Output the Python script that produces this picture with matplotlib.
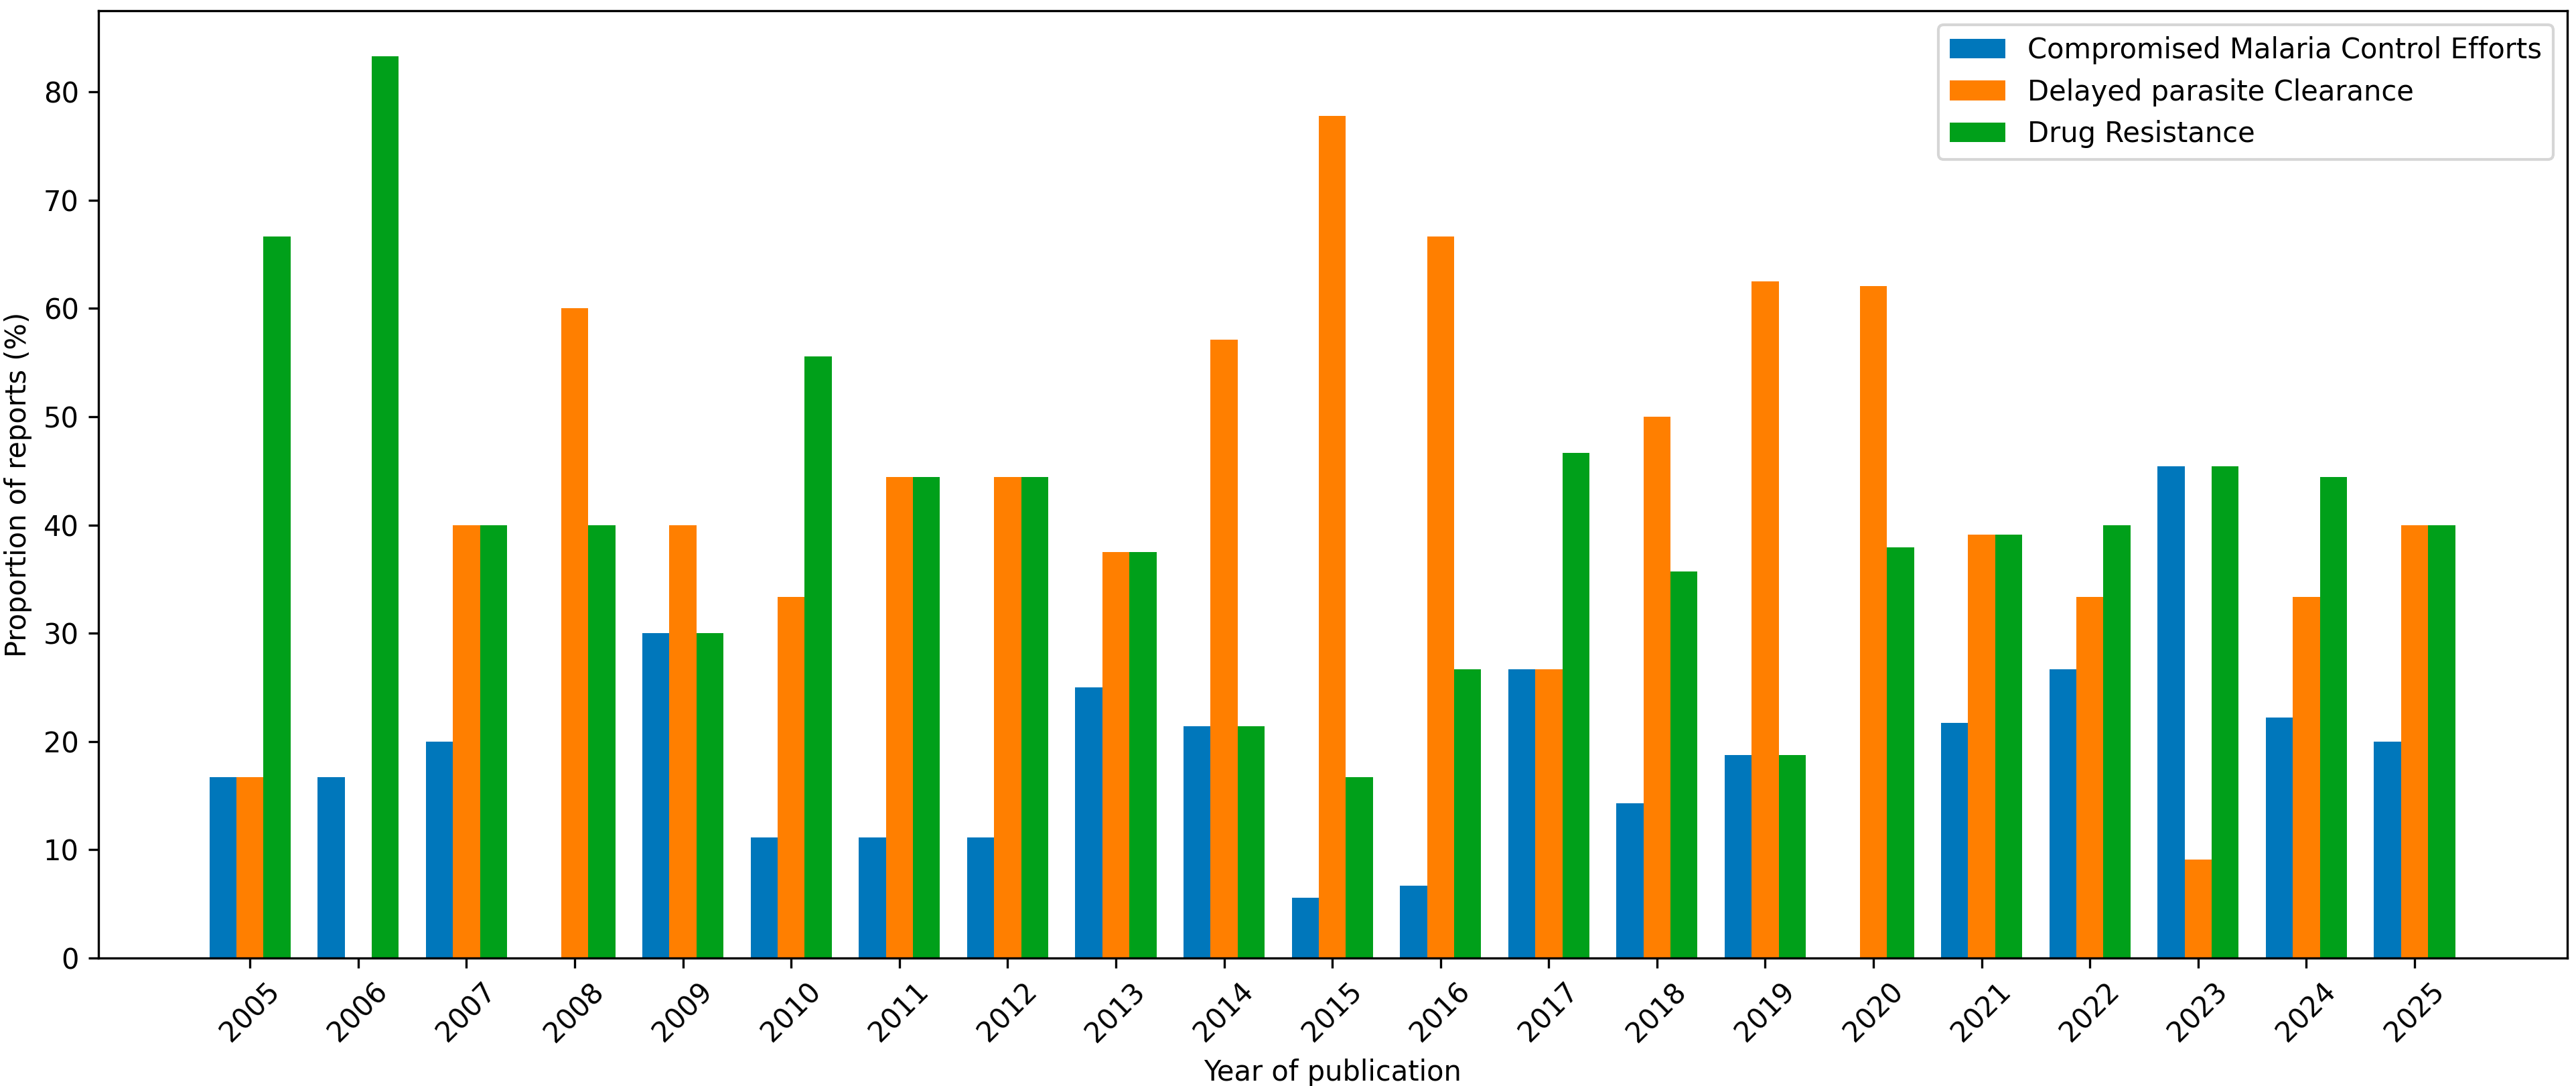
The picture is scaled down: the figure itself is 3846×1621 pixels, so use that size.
import matplotlib
matplotlib.use("Agg")
import matplotlib.pyplot as plt
import numpy as np

years = [str(y) for y in range(2005, 2026)]
series_names = ["Compromised Malaria Control Efforts",
                "Delayed parasite Clearance",
                "Drug Resistance"]
compromised = [16.67, 16.67, 20.0, 0.0, 30.0, 11.11, 11.11, 11.11, 25.0, 21.43,
               5.56, 6.67, 26.67, 14.29, 18.75, 0.0, 21.74, 26.67, 45.45, 22.22, 20.0]
delayed = [16.67, 0.0, 40.0, 60.0, 40.0, 33.33, 44.44, 44.44, 37.5, 57.14,
           77.78, 66.67, 26.67, 50.0, 62.5, 62.07, 39.13, 33.33, 9.09, 33.33, 40.0]
resistance = [66.67, 83.33, 40.0, 40.0, 30.0, 55.56, 44.44, 44.44, 37.5, 21.43,
              16.67, 26.67, 46.67, 35.71, 18.75, 37.93, 39.13, 40.0, 45.45, 44.44, 40.0]
colors = ["#0077BB", "#FF7F00", "#00A01A"]

plt.rcParams['font.family'] = ['DejaVu Sans']
fig = plt.figure(figsize=(3846/300, 1621/300), dpi=300)
ax = fig.add_axes([0.0382, 0.118, 0.9584, 0.872])

x = np.arange(len(years))
w = 0.25
for i, (vals, name) in enumerate(zip([compromised, delayed, resistance], series_names)):
    ax.bar(x + (i - 1) * w, vals, width=w, color=colors[i], label=name)

ax.set_xticks(x)
ax.set_xticklabels(years, rotation=45, fontsize=10)
ax.tick_params(axis='y', labelsize=10)
ax.set_xlim(-1.4, len(years) - 1 + 1.41)
ax.set_ylim(0, 87.5)
ax.set_xlabel("Year of publication", fontsize=10)
ax.set_ylabel("Proportion of reports (%)", fontsize=10)
ax.legend(loc='upper right', fontsize=10)

fig.savefig("out.png", dpi=300)
